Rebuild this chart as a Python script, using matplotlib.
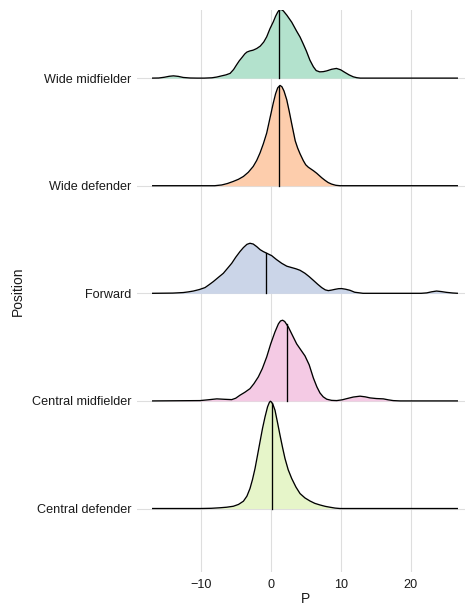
import numpy as np
import matplotlib
matplotlib.use("Agg")
import matplotlib.pyplot as plt

plt.rcParams['font.family'] = ['Liberation Sans', 'DejaVu Sans']

positions = ["Central defender", "Central midfielder", "Forward", "Wide defender", "Wide midfielder"]
colors = ["#E6F5C9", "#F4CAE4", "#CBD5E8", "#FDCDAC", "#B3E2CD"]

# density curves (x = P, h = scaled height in row units)
cd_x = [-16.96, -10.1, -8.5, -7.24, -6.3, -5.34, -4.6, -3.9, -3.4, -2.96, -2.6, -2.24, -1.9, -1.53, -1.17, -0.81, -0.45, -0.2, -0.05, 0.1, 0.3, 0.61, 0.97, 1.33, 1.7, 2.04, 2.5, 3.0, 3.6, 4.19, 4.9, 5.61, 6.3, 7.04, 7.8, 8.47, 9.2, 9.9, 26.76]
cd_h = [0, 0, 0.002, 0.007, 0.012, 0.021, 0.038, 0.068, 0.115, 0.186, 0.27, 0.372, 0.49, 0.620, 0.745, 0.852, 0.945, 0.985, 0.997, 0.99, 0.97, 0.914, 0.80, 0.681, 0.565, 0.465, 0.36, 0.279, 0.20, 0.139, 0.098, 0.070, 0.048, 0.033, 0.02, 0.012, 0.004, 0, 0]

cm_x = [-16.96, -10.1, -9.0, -7.7, -6.6, -5.57, -5.0, -4.39, -3.7, -2.96, -2.4, -1.77, -1.2, -0.57, 0.0, 0.61, 1.1, 1.4, 1.7, 2.0, 2.51, 3.1, 3.71, 4.4, 4.9, 5.5, 6.09, 6.6, 7.04, 7.5, 8.0, 8.7, 9.43, 10.2, 10.86, 11.8, 12.76, 13.5, 14.2, 15.1, 16.1, 16.8, 17.5, 18.5, 26.76]
cm_h = [0, 0.003, 0.01, 0.019, 0.015, 0.012, 0.025, 0.053, 0.08, 0.114, 0.16, 0.223, 0.30, 0.409, 0.53, 0.641, 0.716, 0.743, 0.75, 0.738, 0.688, 0.61, 0.530, 0.465, 0.418, 0.335, 0.214, 0.13, 0.074, 0.038, 0.016, 0.005, 0.003, 0.01, 0.021, 0.036, 0.044, 0.038, 0.028, 0.022, 0.019, 0.01, 0.003, 0, 0]

fw_x = [-16.96, -14.0, -12.5, -11.8, -11.06, -10.2, -9.39, -8.8, -8.2, -7.5, -6.77, -6.2, -5.57, -5.0, -4.39, -3.9, -3.4, -2.96, -2.5, -2.0, -1.5, -1.06, 0.14, 0.8, 1.57, 2.3, 3.0, 3.6, 4.19, 4.9, 5.5, 6.09, 6.7, 7.29, 7.8, 8.23, 8.7, 9.19, 9.7, 10.14, 10.7, 11.33, 12.0, 13.2, 21.5, 22.3, 23.0, 23.7, 24.4, 25.1, 26.0, 26.76]
fw_h = [0, 0.002, 0.007, 0.013, 0.021, 0.035, 0.053, 0.08, 0.109, 0.147, 0.186, 0.23, 0.279, 0.335, 0.388, 0.425, 0.455, 0.465, 0.458, 0.434, 0.405, 0.388, 0.350, 0.315, 0.279, 0.252, 0.239, 0.228, 0.214, 0.186, 0.155, 0.121, 0.085, 0.053, 0.032, 0.025, 0.03, 0.037, 0.043, 0.044, 0.038, 0.028, 0.01, 0, 0, 0.004, 0.014, 0.021, 0.016, 0.009, 0.003, 0]

wd_x = [-16.96, -8.0, -7.0, -6.2, -5.34, -4.6, -3.9, -3.2, -2.5, -2.0, -1.53, -1.05, -0.57, -0.1, 0.37, 0.7, 1.0, 1.33, 1.6, 1.9, 2.29, 2.65, 3.0, 3.5, 3.85, 4.19, 4.66, 5.0, 5.37, 6.09, 6.57, 7.29, 7.76, 8.2, 8.7, 9.3, 9.9, 26.76]
wd_h = [0, 0, 0.007, 0.02, 0.040, 0.06, 0.086, 0.125, 0.179, 0.235, 0.304, 0.39, 0.490, 0.63, 0.769, 0.855, 0.91, 0.932, 0.92, 0.88, 0.799, 0.69, 0.576, 0.418, 0.35, 0.297, 0.233, 0.195, 0.172, 0.140, 0.116, 0.074, 0.05, 0.03, 0.015, 0.004, 0, 0]

wm_x = [-16.96, -16.0, -15.2, -14.5, -13.9, -13.2, -12.5, -11.5, -10.5, -9.5, -8.4, -7.7, -7.0, -6.4, -5.8, -5.3, -4.9, -4.5, -4.1, -3.7, -3.4, -3.0, -2.5, -2.0, -1.5, -1.0, -0.57, -0.1, 0.37, 0.7, 1.0, 1.25, 1.5, 1.8, 2.3, 3.0, 3.7, 4.2, 4.66, 5.1, 5.6, 6.1, 6.5, 7.0, 7.5, 8.0, 8.7, 9.4, 10.0, 10.6, 11.2, 11.8, 12.3, 12.8, 26.76]
wm_h = [0, 0.001, 0.008, 0.017, 0.021, 0.016, 0.006, 0.001, 0, 0, 0.003, 0.01, 0.021, 0.03, 0.044, 0.08, 0.121, 0.16, 0.192, 0.225, 0.242, 0.252, 0.260, 0.275, 0.297, 0.335, 0.384, 0.46, 0.523, 0.575, 0.613, 0.635, 0.638, 0.625, 0.585, 0.520, 0.437, 0.381, 0.316, 0.251, 0.167, 0.105, 0.07, 0.058, 0.06, 0.067, 0.082, 0.090, 0.077, 0.053, 0.03, 0.012, 0.004, 0, 0]

medians = [0.2, 2.28, -0.72, 1.23, 1.23]

curves_x = [cd_x, cm_x, fw_x, wd_x, wm_x]
curves_h = [cd_h, cm_h, fw_h, wd_h, wm_h]

W, H = 465, 608
fig = plt.figure(figsize=(W / 100, H / 100), dpi=100)
left_px, right_px = 136.7, 473.3
top_px, bot_px = 10, 572
ax = fig.add_axes([left_px / W, 1 - bot_px / H, (right_px - left_px) / W, (bot_px - top_px) / H])
ax.set_xlim(-19.15, 28.95)
ax.set_ylim(0.41, 5.633)

grid_col = "#dedede"
for xv in [-10, 0, 10, 20]:
    ax.axvline(xv, color=grid_col, lw=0.8, zorder=0)
for i in range(len(positions)):
    ax.axhline(i + 1, color=grid_col, lw=0.8, zorder=0)

n = len(positions)
for i in reversed(range(n)):
    base = i + 1
    x = np.array(curves_x[i], dtype=float)
    h = np.array(curves_h[i], dtype=float)
    z = 10 + (n - i) * 3
    ax.fill_between(x, base, base + h, color=colors[i], lw=0, zorder=z)
    ax.plot(x, base + h, color="black", lw=0.95, zorder=z + 1,
            solid_joinstyle="round", solid_capstyle="butt")
    m = medians[i]
    mh = np.interp(m, x, h)
    ax.plot([m, m], [base, base + mh], color="black", lw=0.95, zorder=z + 1)

ax.set_yticks(range(1, n + 1))
ax.set_yticklabels(positions)
ax.set_xticks([-10, 0, 10, 20])
ax.set_xticklabels(["\u221210", "0", "10", "20"])
ax.tick_params(axis="both", length=0, labelsize=9.1, colors="#1a1a1a")
ax.tick_params(axis="y", pad=4)
ax.tick_params(axis="x", pad=5)
for s in ax.spines.values():
    s.set_visible(False)
ax.set_xlabel("P", fontsize=10, color="#1a1a1a", labelpad=1)
ax.set_ylabel("Position", fontsize=10, color="#1a1a1a")
ax.yaxis.set_label_coords(-(left_px - 25) / (right_px - left_px), 0.5)

fig.savefig("out.png", dpi=100)
